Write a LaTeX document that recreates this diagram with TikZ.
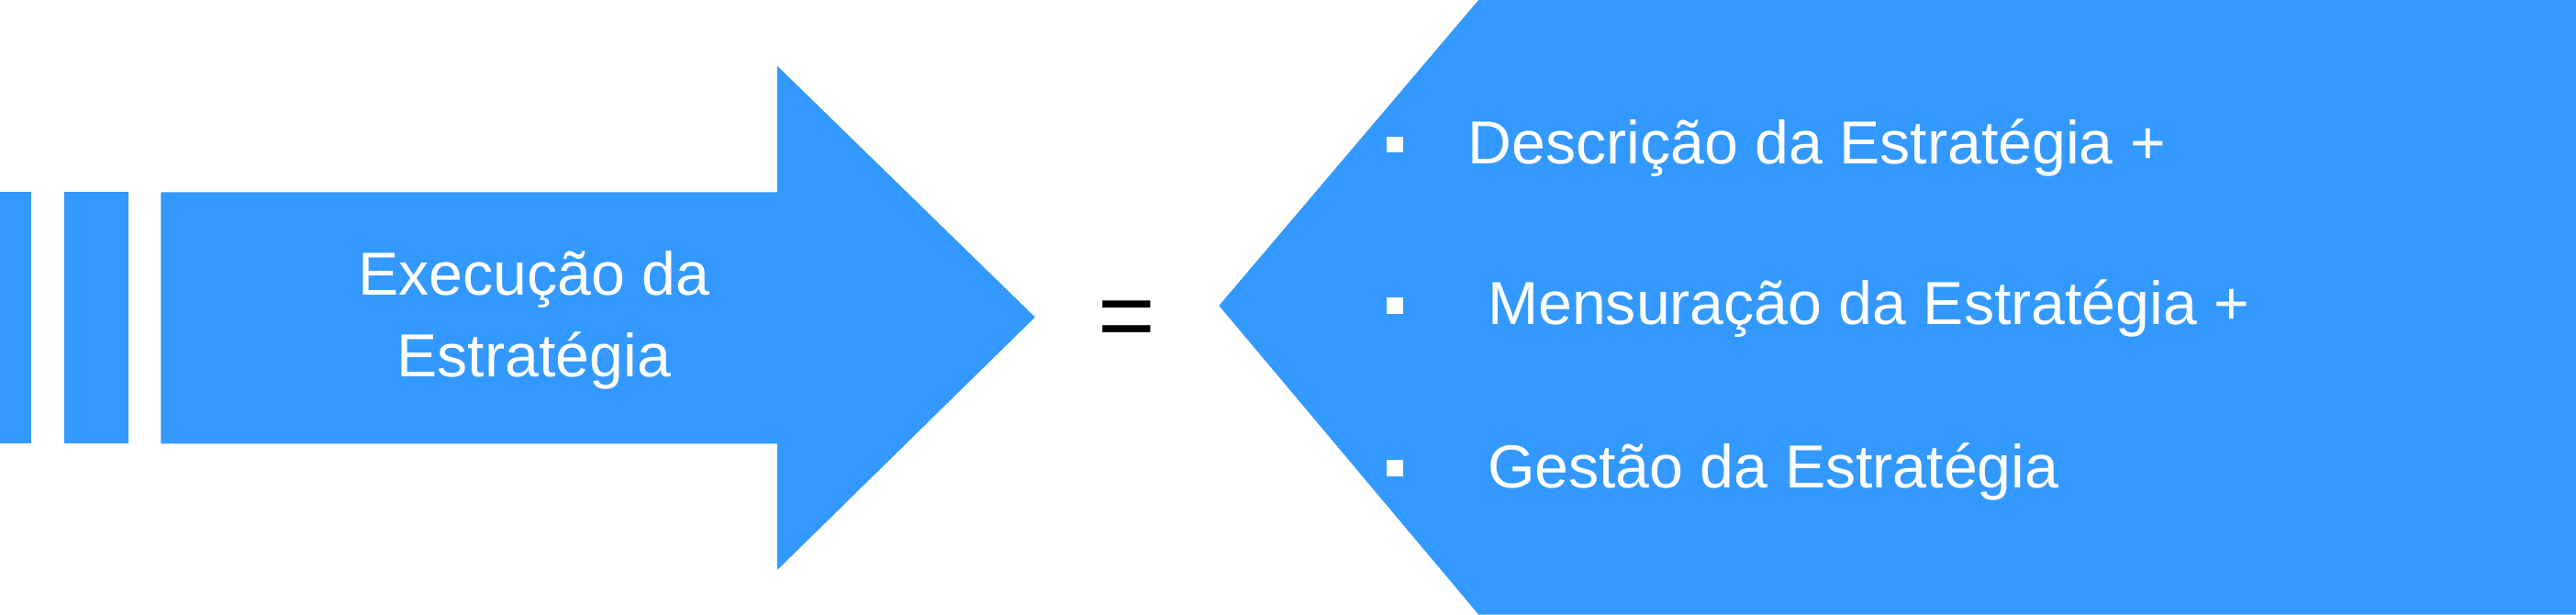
\documentclass[tikz,border=0pt]{standalone}
\usepackage{fontspec}
\setmainfont{Liberation Sans}
\definecolor{bl}{HTML}{3399FF}
\begin{document}
\begin{tikzpicture}[x=1pt,y=-1pt,
  txt/.style={text=white,font=\fontsize{37}{44}\selectfont,anchor=west},
  bul/.style={fill=white,minimum size=10pt,inner sep=0pt}]
\useasboundingbox (0,0) rectangle (1568,374);
\fill[bl] (0,117) rectangle (19,270);
\fill[bl] (39,117) rectangle (78,270);
\fill[bl] (98,117) -- (473,117) -- (473,40) -- (630,193) -- (473,347) -- (473,270) -- (98,270) -- cycle;
\node[text=white,font=\fontsize{37}{50}\selectfont,align=center] (ex) at (325,195) {Execução da\\Estratégia};
\node[font=\fontsize{60}{60}\selectfont] (eq) at (686,198) {=};
\fill[bl] (742,186) -- (900,0) -- (1568,0) -- (1568,374) -- (900,374) -- cycle;
\node[bul] (b1) at (849,88) {};
\node[bul] (b2) at (849,186) {};
\node[bul] (b3) at (849,285) {};
\node[txt] (t1) at (890,90) {Descrição da Estratégia +};
\node[txt] (t2) at (902,188) {Mensuração da Estratégia +};
\node[txt] (t3) at (902,287) {Gestão da Estratégia};
\end{tikzpicture}
\end{document}
